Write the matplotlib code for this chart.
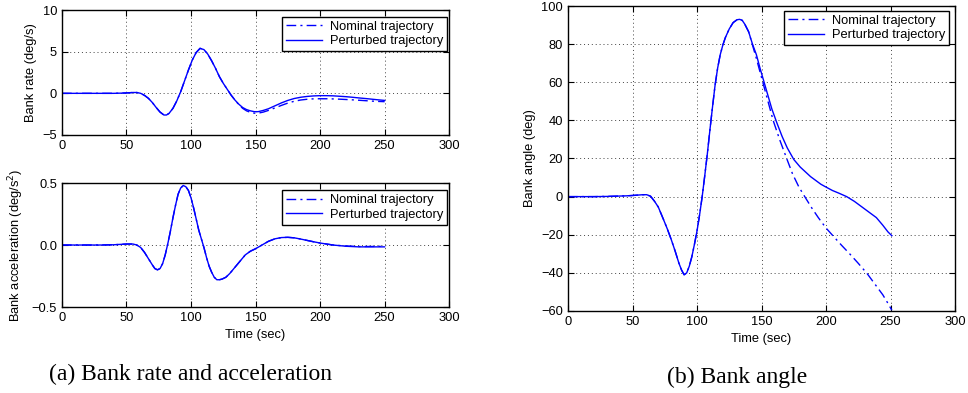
import matplotlib
matplotlib.use('Agg')
import matplotlib.pyplot as plt

plt.rcParams['font.family'] = ['Liberation Sans', 'DejaVu Sans']
plt.rcParams['axes.unicode_minus'] = True

# ---- bank rate (deg/s) ----
t_rate = [0, 10, 20, 30, 40, 45, 50, 55, 58, 61, 64, 67, 70, 73, 76, 79, 81, 83,
          86, 89, 92, 95, 98, 101, 104, 107, 110, 113, 116, 119, 122, 125, 128,
          131, 134, 137, 140, 143, 146, 149, 152, 156, 160, 165, 170, 175, 180,
          185, 190, 195, 200, 205, 210, 215, 220, 225, 230, 235, 240, 245, 250]
rate_pert = [0, 0, 0, 0, 0, 0.02, 0.05, 0.1, 0.1, 0.0, -0.25, -0.6, -1.1, -1.7,
             -2.25, -2.6, -2.6, -2.4, -1.8, -0.9, 0.2, 1.5, 2.8, 4.0, 4.9, 5.4,
             5.25, 4.7, 3.9, 3.0, 2.0, 1.2, 0.5, -0.2, -0.8, -1.3, -1.7, -1.95,
             -2.1, -2.2, -2.2, -2.05, -1.85, -1.5, -1.15, -0.85, -0.62, -0.47,
             -0.37, -0.31, -0.28, -0.28, -0.3, -0.35, -0.4, -0.47, -0.55, -0.62,
             -0.7, -0.78, -0.85]
rate_nom = [0, 0, 0, 0, 0, 0.02, 0.05, 0.1, 0.1, 0.0, -0.25, -0.6, -1.1, -1.7,
            -2.25, -2.6, -2.6, -2.4, -1.8, -0.9, 0.2, 1.5, 2.8, 4.0, 4.9, 5.4,
            5.25, 4.7, 3.9, 3.0, 2.0, 1.2, 0.5, -0.2, -0.8, -1.35, -1.8, -2.1,
            -2.28, -2.38, -2.38, -2.25, -2.05, -1.75, -1.45, -1.17, -0.95, -0.8,
            -0.71, -0.66, -0.65, -0.65, -0.67, -0.7, -0.74, -0.78, -0.83, -0.88,
            -0.93, -0.97, -1.0]

# ---- bank acceleration (deg/s^2) ----
t_acc = [0, 10, 20, 30, 40, 45, 50, 55, 58, 61, 64, 67, 70, 72, 74, 76, 78, 80,
         82, 84, 86, 88, 90, 92, 94, 96, 98, 100, 102, 104, 106, 108, 110, 112,
         114, 116, 118, 120, 122, 124, 127, 130, 134, 138, 142, 146, 150, 155,
         160, 165, 170, 175, 180, 185, 190, 195, 200, 210, 220, 230, 240, 250]
acc_pert = [0, 0, 0, 0, 0.002, 0.005, 0.008, 0.008, 0.0, -0.02, -0.06, -0.11,
            -0.16, -0.19, -0.2, -0.19, -0.15, -0.08, 0.01, 0.11, 0.22, 0.32,
            0.41, 0.46, 0.48, 0.47, 0.44, 0.38, 0.3, 0.21, 0.12, 0.05, -0.02,
            -0.1, -0.17, -0.22, -0.26, -0.28, -0.28, -0.275, -0.26, -0.23, -0.18,
            -0.13, -0.08, -0.05, -0.03, 0.0, 0.03, 0.05, 0.06, 0.062, 0.058,
            0.048, 0.037, 0.026, 0.016, 0.0, -0.01, -0.015, -0.015, -0.015]
acc_nom = [0, 0, 0, 0, 0.002, 0.005, 0.008, 0.008, 0.0, -0.02, -0.06, -0.11,
           -0.16, -0.19, -0.2, -0.19, -0.15, -0.08, 0.01, 0.11, 0.22, 0.32,
           0.41, 0.46, 0.48, 0.47, 0.44, 0.38, 0.3, 0.21, 0.12, 0.05, -0.02,
           -0.1, -0.17, -0.22, -0.26, -0.28, -0.28, -0.275, -0.26, -0.23, -0.18,
           -0.13, -0.08, -0.05, -0.03, 0.0, 0.03, 0.05, 0.06, 0.062, 0.058,
           0.048, 0.037, 0.026, 0.016, 0.0, -0.008, -0.012, -0.012, -0.01]

# ---- bank angle (deg) ----
t_ang_pert = [0, 10, 20, 30, 40, 45, 50, 54, 58, 61, 64, 67, 70, 74, 77, 80, 83,
              86, 88, 90, 92, 94, 96, 98, 100, 102, 104, 106, 108, 110, 112, 114,
              116, 118, 120, 122, 125, 128, 131, 133, 135, 137, 140, 143, 146,
              149, 152, 155, 158, 162, 166, 170, 175, 180, 184, 188, 192, 196,
              200, 205, 210, 216, 222, 228, 234, 239, 244, 248, 251]
ang_pert = [0, 0, 0, 0.1, 0.3, 0.4, 0.6, 0.8, 1.0, 1.0, 0.2, -2.4, -5.5, -12,
            -17, -22.5, -28.5, -35, -38.5, -41, -40, -36.5, -31.5, -25, -18,
            -9.5, 0, 11, 22.5, 35, 47, 58.5, 67.5, 74.5, 79.5, 83.5, 88, 91.3,
            92.8, 93, 92.5, 90.5, 86.5, 80, 74.5, 67, 60, 53, 46, 38.5, 31.5,
            25.5, 19.5, 15.5, 13, 10.5, 8.5, 6.5, 5, 3.2, 1.8, 0, -2.5, -5.5,
            -8.5, -11, -15, -18.5, -20.5]
t_ang_nom = [0, 10, 20, 30, 40, 45, 50, 54, 58, 61, 64, 67, 70, 74, 77, 80, 83,
             86, 88, 90, 92, 94, 96, 98, 100, 102, 104, 106, 108, 110, 112, 114,
             116, 118, 120, 122, 125, 128, 131, 133, 135, 137, 140, 143, 146,
             149, 151, 155, 159, 164, 169.5, 174, 179, 183.5, 189, 194, 200,
             206, 212, 219, 225, 232, 238, 244, 248, 251]
ang_nom = [0, 0, 0, 0.1, 0.3, 0.4, 0.6, 0.8, 1.0, 1.0, 0.2, -2.4, -5.5, -12,
           -17, -22.5, -28.5, -35, -38.5, -41, -40, -36.5, -31.5, -25, -18,
           -9.5, 0, 11, 22.5, 35, 47, 58.5, 67.5, 74.5, 79.5, 83.5, 88, 91.3,
           92.8, 93, 92.5, 90.5, 86.5, 79.5, 72.5, 65, 60, 50, 40, 30, 20, 12,
           5, 0, -6, -11, -16.5, -21, -25.5, -30.5, -35, -40.5, -46, -51.5, -56,
           -59.6]

labels = ['Nominal trajectory', 'Perturbed trajectory']
BLUE = '#0000ff'
DASHDOT = (0, (7, 3, 1.5, 3))
FS = 9.3

fig = plt.figure(figsize=(9.68, 3.93), dpi=100)
ax1 = fig.add_axes([0.064, 0.6565, 0.400, 0.318])
ax2 = fig.add_axes([0.064, 0.2188, 0.400, 0.3155])
ax3 = fig.add_axes([0.5868, 0.2087, 0.3998, 0.776])


def style(ax, ylim, yticks, anchor):
    ax.set_xlim(0, 300)
    ax.set_xticks([0, 50, 100, 150, 200, 250, 300])
    ax.set_ylim(*ylim)
    ax.set_yticks(yticks)
    ax.grid(True, linestyle=(0, (1, 3)), color='#444444', linewidth=0.7)
    ax.tick_params(direction='in', top=True, right=True, length=4,
                   labelsize=FS, width=0.8)
    for s in ax.spines.values():
        s.set_linewidth(1.0)
    leg = ax.legend(labels, loc='upper right', bbox_to_anchor=anchor,
                    borderaxespad=0, fontsize=FS, fancybox=False,
                    edgecolor='black', framealpha=1, handlelength=2.8,
                    borderpad=0.3, labelspacing=0.2, handletextpad=0.6)
    leg.get_frame().set_linewidth(1.0)


ax1.plot(t_rate, rate_nom, color=BLUE, linestyle=DASHDOT, linewidth=1.0)
ax1.plot(t_rate, rate_pert, color=BLUE, linewidth=1.0)
style(ax1, (-5, 10), [-5, 0, 5, 10], (0.995, 0.945))
ax1.set_ylabel('Bank rate (deg/s)', fontsize=FS)

ax2.plot(t_acc, acc_nom, color=BLUE, linestyle=DASHDOT, linewidth=1.0)
ax2.plot(t_acc, acc_pert, color=BLUE, linewidth=1.0)
style(ax2, (-0.5, 0.5), [-0.5, 0, 0.5], (0.995, 0.94))
ax2.set_ylabel('Bank acceleration (deg/s$^2$)', fontsize=FS)
ax2.set_xlabel('Time (sec)', fontsize=FS)

ax3.plot(t_ang_nom, ang_nom, color=BLUE, linestyle=DASHDOT, linewidth=1.0)
ax3.plot(t_ang_pert, ang_pert, color=BLUE, linewidth=1.0)
style(ax3, (-60, 100), list(range(-60, 101, 20)), (0.984, 0.984))
ax3.set_ylabel('Bank angle (deg)', fontsize=FS)
ax3.set_xlabel('Time (sec)', fontsize=FS)

fig.text(0.197, 0.046, '(a) Bank rate and acceleration', ha='center',
         va='center', fontsize=17, family=['Liberation Serif'])
fig.text(0.761, 0.040, '(b) Bank angle', ha='center', va='center',
         fontsize=17, family=['Liberation Serif'])

fig.savefig('out.png', dpi=100)
